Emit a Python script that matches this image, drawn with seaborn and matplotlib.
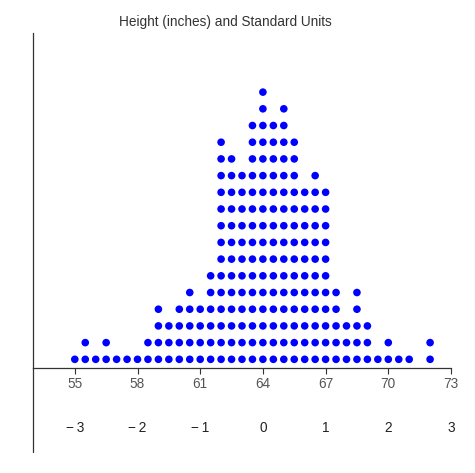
import numpy as np
import pandas as pd
import matplotlib.pyplot as plt
import seaborn as sns
from matplotlib.lines import Line2D

# half-inch height bins and number of people stacked in each
heights = [55, 55.5, 56, 56.5, 57, 57.5, 58, 58.5, 59, 59.5, 60, 60.5, 61, 61.5,
           62, 62.5, 63, 63.5, 64, 64.5, 65, 65.5, 66, 66.5, 67, 67.5, 68, 68.5,
           69, 69.5, 70, 70.5, 71, 71.5, 72]
counts = [1, 2, 1, 2, 1, 1, 1, 2, 4, 3, 4, 5, 4, 6,
          14, 13, 12, 15, 17, 15, 16, 14, 11, 12, 11, 5, 3, 5,
          3, 1, 2, 1, 1, 0, 2]
inch_ticks = [55, 58, 61, 64, 67, 70, 73]
su_ticks = [-3, -2, -1, 0, 1, 2, 3]
su_labels = ["\u2212\u20093", "\u2212\u20092", "\u2212\u20091", "0", "1", "2", "3"]
mean_h, sd_h = 64, 3

rows = [(h, k) for h, n in zip(heights, counts) for k in range(1, n + 1)]
df = pd.DataFrame(rows, columns=["height", "level"])

sns.set_theme(style="white")
plt.rcParams["font.family"] = ["Liberation Sans", "DejaVu Sans"]

W, H = 475, 473
fig = plt.figure(figsize=(W / 100, H / 100), dpi=100)
ax = fig.add_axes([33 / W, (H - 368) / H, 418 / W, 335 / H])

sns.scatterplot(data=df, x="height", y="level", ax=ax, color="#0000ff",
                s=30, edgecolor="none", linewidth=0, legend=False)

ax.set_xlim(53, 73)
ax.set_ylim(0.48, 20.54)
ax.set_xticks(inch_ticks)
ax.set_yticks([])
ax.set_xlabel("")
ax.set_ylabel("")
for side in ["top", "right"]:
    ax.spines[side].set_visible(False)
for side in ["left", "bottom"]:
    ax.spines[side].set_color("#333333")
    ax.spines[side].set_linewidth(0.9)
ax.tick_params(axis="x", direction="out", length=4.3, width=0.8, color="#333333",
               labelsize=9.8, labelcolor="#555555", pad=2.0, bottom=True)

sec = ax.secondary_xaxis(-0.146, functions=(lambda v: (v - mean_h) / sd_h,
                                            lambda u: u * sd_h + mean_h))
sec.set_xticks(su_ticks)
sec.set_xticklabels(su_labels)
sec.spines["bottom"].set_visible(False)
sec.tick_params(axis="x", length=0, labelsize=9.8, labelcolor="#222222", pad=3.0)

# left axis line runs on below the height axis
fig.add_artist(Line2D([33 / W, 33 / W], [(H - 452) / H, (H - 368) / H],
                      transform=fig.transFigure, color="#333333", lw=0.9))

fig.text(225.5 / W, 1 - 22 / H, "Height (inches) and Standard Units",
         ha="center", va="center", fontsize=9.8, color="#333333")

fig.savefig("out.png", dpi=100)
